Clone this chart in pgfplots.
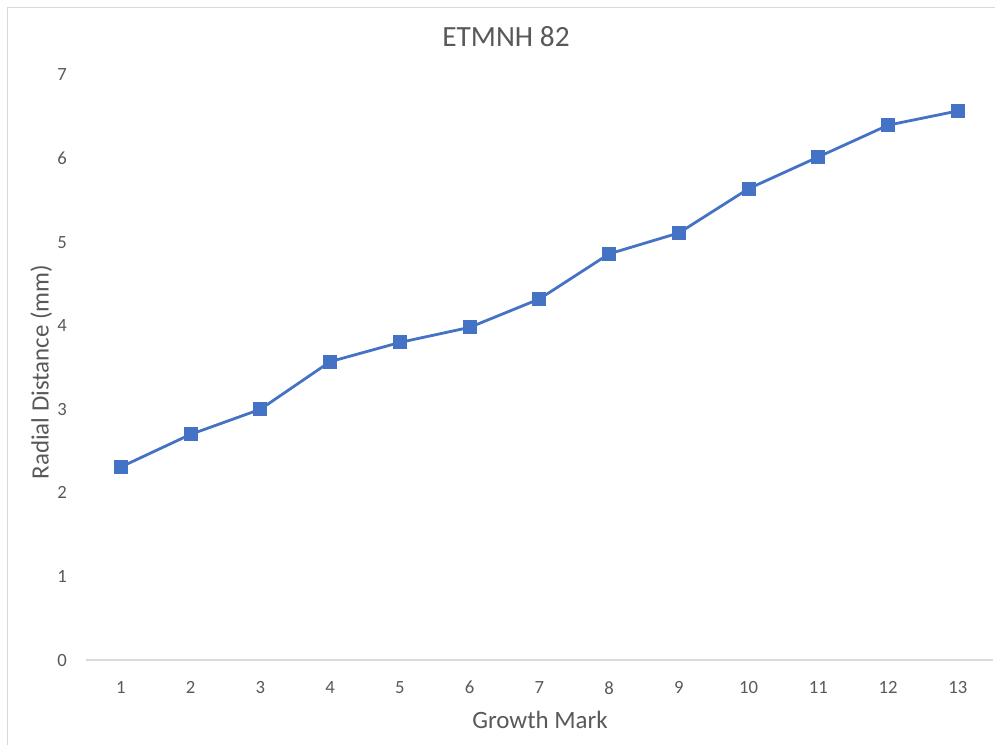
\documentclass[border=0pt]{standalone}
\usepackage{fontspec}
\setmainfont{Carlito}
\usepackage{pgfplots}
\pgfplotsset{compat=1.18}

\definecolor{seriesblue}{HTML}{4472C4}
\definecolor{labelgray}{HTML}{595959}
\definecolor{linegray}{HTML}{D9D9D9}

\begin{document}
\begin{tikzpicture}
\useasboundingbox (0pt,0pt) rectangle (746.25pt,558pt);
% chart frame
\draw[linegray, line width=0.9pt] (5.6pt,-8pt) -- (5.6pt,552.4pt) -- (755pt,552.4pt);

\begin{axis}[
  at={(64.5pt,63pt)}, anchor=south west,
  scale only axis,
  width=680.06pt, height=438.75pt,
  xmin=0.5, xmax=13.5, ymin=0, ymax=7,
  axis x line*=bottom, axis y line*=left,
  x axis line style={draw=linegray, line width=1.1pt, -},
  y axis line style={draw=none},
  xtick={1,...,13}, ytick={0,...,7},
  major tick length=0pt,
  tick label style={font=\fontsize{14}{16}\selectfont, text=labelgray, inner sep=0pt},
  /pgf/number format/assume math mode=true,
  yticklabel style={anchor=east, xshift=-14.25pt},
  xticklabel style={anchor=north, yshift=-15.75pt},
  clip=false,
]
\addplot[seriesblue, line width=2.1pt, mark=square*, mark size=4.9pt,
  mark options={fill=seriesblue, draw=seriesblue, line width=0pt}]
  coordinates {
    (1,2.31) (2,2.70) (3,3.00) (4,3.57) (5,3.80) (6,3.98) (7,4.32)
    (8,4.86) (9,5.11) (10,5.64) (11,6.02) (12,6.40) (13,6.57)
  };
\end{axis}

\node[anchor=base, text=labelgray, font=\fontsize{22}{26}\selectfont, inner sep=0pt] at (379.5pt,522.75pt) {ETMNH 82};
\node[anchor=base, text=labelgray, font=\fontsize{18.7}{22}\selectfont, inner sep=0pt] at (405pt,12pt) {Growth Mark};
\node[anchor=base, rotate=90, text=labelgray, font=\fontsize{18.7}{22}\selectfont, inner sep=0pt] at (36.4pt,279pt) {Radial Distance (mm)};
\end{tikzpicture}
\end{document}
